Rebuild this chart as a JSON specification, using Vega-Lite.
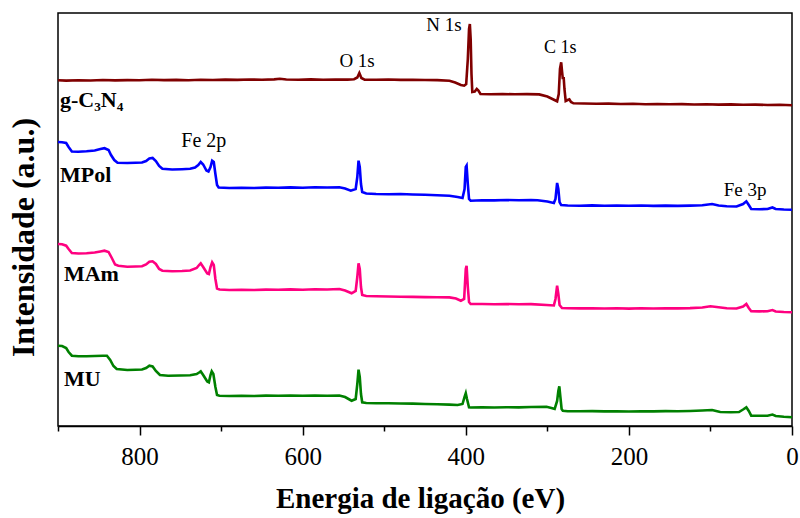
{
"$schema": "https://vega.github.io/schema/vega-lite/v6.json",
"autosize": "none",
"width": 734,
"height": 413,
"padding": {"left": 58, "top": 13, "right": 8, "bottom": 92},
"background": "white",
"config": {
  "view": {"stroke": "black", "strokeWidth": 1.5},
  "axis": {"grid": false, "domainColor": "black", "tickColor": "black", "domainWidth": 1.5, "tickWidth": 1.5, "labelColor": "black", "titleColor": "black"}
},
"datasets": {
  "spectra": [
{"s":"g-C3N4","E":900,"I":345.7},{"s":"g-C3N4","E":890,"I":345.4},{"s":"g-C3N4","E":875,"I":345.8},{"s":"g-C3N4","E":860,"I":345.5},{"s":"g-C3N4","E":845,"I":346.0},{"s":"g-C3N4","E":830,"I":345.6},{"s":"g-C3N4","E":815,"I":345.9},{"s":"g-C3N4","E":800,"I":345.7},{"s":"g-C3N4","E":785,"I":346.2},{"s":"g-C3N4","E":770,"I":345.9},{"s":"g-C3N4","E":755,"I":346.1},{"s":"g-C3N4","E":740,"I":345.8},{"s":"g-C3N4","E":725,"I":346.3},{"s":"g-C3N4","E":710,"I":346.0},{"s":"g-C3N4","E":695,"I":346.4},{"s":"g-C3N4","E":680,"I":346.1},{"s":"g-C3N4","E":665,"I":346.5},{"s":"g-C3N4","E":650,"I":346.2},{"s":"g-C3N4","E":635,"I":346.6},{"s":"g-C3N4","E":628,"I":347.2},{"s":"g-C3N4","E":620,"I":346.5},{"s":"g-C3N4","E":605,"I":346.3},{"s":"g-C3N4","E":590,"I":346.6},{"s":"g-C3N4","E":575,"I":346.2},{"s":"g-C3N4","E":560,"I":346.5},{"s":"g-C3N4","E":545,"I":346.4},{"s":"g-C3N4","E":537,"I":346.8},{"s":"g-C3N4","E":533,"I":348.5},{"s":"g-C3N4","E":530.5,"I":353},{"s":"g-C3N4","E":528,"I":348},{"s":"g-C3N4","E":524,"I":346.4},{"s":"g-C3N4","E":510,"I":346.2},{"s":"g-C3N4","E":495,"I":346.5},{"s":"g-C3N4","E":480,"I":346.1},{"s":"g-C3N4","E":465,"I":346.3},{"s":"g-C3N4","E":450,"I":346.0},{"s":"g-C3N4","E":435,"I":345.9},{"s":"g-C3N4","E":420,"I":345.3},{"s":"g-C3N4","E":413,"I":343.5},{"s":"g-C3N4","E":406,"I":341},{"s":"g-C3N4","E":402,"I":340.3},{"s":"g-C3N4","E":399.5,"I":342},{"s":"g-C3N4","E":397.5,"I":367},{"s":"g-C3N4","E":396,"I":397},{"s":"g-C3N4","E":395,"I":402},{"s":"g-C3N4","E":394,"I":387},{"s":"g-C3N4","E":393,"I":352},{"s":"g-C3N4","E":392,"I":334},{"s":"g-C3N4","E":389,"I":334.5},{"s":"g-C3N4","E":386.5,"I":337},{"s":"g-C3N4","E":384.5,"I":335.5},{"s":"g-C3N4","E":382,"I":332},{"s":"g-C3N4","E":370,"I":331.8},{"s":"g-C3N4","E":355,"I":332},{"s":"g-C3N4","E":340,"I":331.7},{"s":"g-C3N4","E":325,"I":331.9},{"s":"g-C3N4","E":310,"I":331.6},{"s":"g-C3N4","E":300,"I":329.5},{"s":"g-C3N4","E":290,"I":325.5},{"s":"g-C3N4","E":288,"I":324.7},{"s":"g-C3N4","E":286,"I":332},{"s":"g-C3N4","E":284.5,"I":357},{"s":"g-C3N4","E":283,"I":363.7},{"s":"g-C3N4","E":282,"I":355},{"s":"g-C3N4","E":281,"I":347},{"s":"g-C3N4","E":280,"I":349},{"s":"g-C3N4","E":279,"I":337},{"s":"g-C3N4","E":277.5,"I":325},{"s":"g-C3N4","E":275,"I":326},{"s":"g-C3N4","E":273,"I":326.7},{"s":"g-C3N4","E":271,"I":324},{"s":"g-C3N4","E":268,"I":322.7},{"s":"g-C3N4","E":255,"I":322.5},{"s":"g-C3N4","E":240,"I":322.2},{"s":"g-C3N4","E":225,"I":322.4},{"s":"g-C3N4","E":210,"I":322},{"s":"g-C3N4","E":195,"I":322.2},{"s":"g-C3N4","E":180,"I":321.8},{"s":"g-C3N4","E":165,"I":322},{"s":"g-C3N4","E":150,"I":321.7},{"s":"g-C3N4","E":135,"I":321.9},{"s":"g-C3N4","E":120,"I":321.5},{"s":"g-C3N4","E":105,"I":321.7},{"s":"g-C3N4","E":90,"I":321.4},{"s":"g-C3N4","E":75,"I":321.6},{"s":"g-C3N4","E":60,"I":321.2},{"s":"g-C3N4","E":45,"I":321.4},{"s":"g-C3N4","E":30,"I":321},{"s":"g-C3N4","E":15,"I":321.2},{"s":"g-C3N4","E":0,"I":320.7},

{"s":"MPol","E":900,"I":284},{"s":"MPol","E":895,"I":283.7},{"s":"MPol","E":890,"I":283},{"s":"MPol","E":887,"I":279},{"s":"MPol","E":883,"I":274.5},{"s":"MPol","E":875,"I":274.2},{"s":"MPol","E":865,"I":274.7},{"s":"MPol","E":855,"I":275.5},{"s":"MPol","E":848,"I":277},{"s":"MPol","E":843,"I":277.8},{"s":"MPol","E":838,"I":276},{"s":"MPol","E":835,"I":271},{"s":"MPol","E":831,"I":266},{"s":"MPol","E":827,"I":263.3},{"s":"MPol","E":815,"I":263},{"s":"MPol","E":805,"I":263.2},{"s":"MPol","E":797,"I":263.5},{"s":"MPol","E":792,"I":265},{"s":"MPol","E":788,"I":267.5},{"s":"MPol","E":784,"I":268},{"s":"MPol","E":780,"I":265},{"s":"MPol","E":776,"I":260},{"s":"MPol","E":772,"I":257.2},{"s":"MPol","E":760,"I":256.5},{"s":"MPol","E":748,"I":256.8},{"s":"MPol","E":738,"I":257.2},{"s":"MPol","E":732,"I":258.5},{"s":"MPol","E":728,"I":261},{"s":"MPol","E":725,"I":264},{"s":"MPol","E":722,"I":261.5},{"s":"MPol","E":718,"I":255.5},{"s":"MPol","E":715.5,"I":254.5},{"s":"MPol","E":713,"I":259},{"s":"MPol","E":711,"I":265.3},{"s":"MPol","E":709,"I":264},{"s":"MPol","E":707,"I":252},{"s":"MPol","E":705,"I":241},{"s":"MPol","E":703,"I":238.5},{"s":"MPol","E":690,"I":238},{"s":"MPol","E":675,"I":238.3},{"s":"MPol","E":660,"I":238},{"s":"MPol","E":645,"I":238.4},{"s":"MPol","E":630,"I":238.2},{"s":"MPol","E":615,"I":238.6},{"s":"MPol","E":600,"I":238.3},{"s":"MPol","E":585,"I":238.7},{"s":"MPol","E":570,"I":238.5},{"s":"MPol","E":555,"I":238.7},{"s":"MPol","E":548,"I":237.5},{"s":"MPol","E":541,"I":235.3},{"s":"MPol","E":535,"I":237},{"s":"MPol","E":533,"I":249},{"s":"MPol","E":531.5,"I":265.3},{"s":"MPol","E":530,"I":259},{"s":"MPol","E":528.5,"I":242},{"s":"MPol","E":527,"I":234},{"s":"MPol","E":522,"I":232.5},{"s":"MPol","E":510,"I":232},{"s":"MPol","E":495,"I":231.8},{"s":"MPol","E":480,"I":232},{"s":"MPol","E":465,"I":231.5},{"s":"MPol","E":450,"I":231.2},{"s":"MPol","E":435,"I":230.8},{"s":"MPol","E":420,"I":230.3},{"s":"MPol","E":410,"I":229},{"s":"MPol","E":404,"I":228},{"s":"MPol","E":401.5,"I":237},{"s":"MPol","E":400,"I":259},{"s":"MPol","E":399,"I":260.3},{"s":"MPol","E":397.5,"I":242},{"s":"MPol","E":396,"I":227},{"s":"MPol","E":394,"I":225.3},{"s":"MPol","E":380,"I":225.8},{"s":"MPol","E":365,"I":225.6},{"s":"MPol","E":350,"I":226},{"s":"MPol","E":335,"I":225.7},{"s":"MPol","E":320,"I":226},{"s":"MPol","E":312,"I":225.8},{"s":"MPol","E":300,"I":224.5},{"s":"MPol","E":292,"I":223},{"s":"MPol","E":290,"I":227},{"s":"MPol","E":288,"I":243},{"s":"MPol","E":286.5,"I":237},{"s":"MPol","E":285,"I":224},{"s":"MPol","E":283,"I":221},{"s":"MPol","E":275,"I":220.5},{"s":"MPol","E":260,"I":220.3},{"s":"MPol","E":245,"I":220.6},{"s":"MPol","E":230,"I":220.2},{"s":"MPol","E":215,"I":220.5},{"s":"MPol","E":200,"I":220.2},{"s":"MPol","E":185,"I":220.5},{"s":"MPol","E":170,"I":220.1},{"s":"MPol","E":155,"I":220.4},{"s":"MPol","E":140,"I":220.1},{"s":"MPol","E":125,"I":220.4},{"s":"MPol","E":110,"I":220.8},{"s":"MPol","E":98,"I":222},{"s":"MPol","E":90,"I":220.5},{"s":"MPol","E":80,"I":219.7},{"s":"MPol","E":68,"I":219.5},{"s":"MPol","E":60,"I":222},{"s":"MPol","E":56,"I":224.7},{"s":"MPol","E":53,"I":221},{"s":"MPol","E":50,"I":217},{"s":"MPol","E":40,"I":216.8},{"s":"MPol","E":30,"I":217},{"s":"MPol","E":24,"I":218.5},{"s":"MPol","E":20,"I":217},{"s":"MPol","E":10,"I":216.5},{"s":"MPol","E":0,"I":216.3},

{"s":"MAm","E":900,"I":182},{"s":"MAm","E":895,"I":181.7},{"s":"MAm","E":890,"I":180.3},{"s":"MAm","E":887,"I":177},{"s":"MAm","E":883,"I":173},{"s":"MAm","E":875,"I":172.5},{"s":"MAm","E":865,"I":172.8},{"s":"MAm","E":855,"I":173.5},{"s":"MAm","E":848,"I":174.5},{"s":"MAm","E":843,"I":175.3},{"s":"MAm","E":838,"I":174},{"s":"MAm","E":834,"I":168},{"s":"MAm","E":830,"I":161.5},{"s":"MAm","E":826,"I":160.3},{"s":"MAm","E":815,"I":159.3},{"s":"MAm","E":805,"I":159.5},{"s":"MAm","E":797,"I":159.7},{"s":"MAm","E":792,"I":161.5},{"s":"MAm","E":788,"I":164.2},{"s":"MAm","E":784,"I":164.7},{"s":"MAm","E":780,"I":162},{"s":"MAm","E":776,"I":157},{"s":"MAm","E":772,"I":155.3},{"s":"MAm","E":760,"I":154.7},{"s":"MAm","E":748,"I":155},{"s":"MAm","E":738,"I":155.5},{"s":"MAm","E":730,"I":158},{"s":"MAm","E":727,"I":161},{"s":"MAm","E":725,"I":162.7},{"s":"MAm","E":722,"I":159},{"s":"MAm","E":717,"I":152.5},{"s":"MAm","E":715,"I":152},{"s":"MAm","E":713,"I":159},{"s":"MAm","E":711,"I":163.7},{"s":"MAm","E":709,"I":161},{"s":"MAm","E":707,"I":147},{"s":"MAm","E":705,"I":137.5},{"s":"MAm","E":702,"I":136.5},{"s":"MAm","E":690,"I":136},{"s":"MAm","E":675,"I":136.3},{"s":"MAm","E":660,"I":136},{"s":"MAm","E":645,"I":136.4},{"s":"MAm","E":630,"I":136.2},{"s":"MAm","E":615,"I":136.6},{"s":"MAm","E":600,"I":136.3},{"s":"MAm","E":585,"I":136.7},{"s":"MAm","E":570,"I":136.5},{"s":"MAm","E":555,"I":137},{"s":"MAm","E":548,"I":135.5},{"s":"MAm","E":540,"I":132.7},{"s":"MAm","E":535,"I":135},{"s":"MAm","E":533,"I":149},{"s":"MAm","E":531.5,"I":162.7},{"s":"MAm","E":530,"I":157},{"s":"MAm","E":528.5,"I":139},{"s":"MAm","E":527,"I":131},{"s":"MAm","E":522,"I":130},{"s":"MAm","E":510,"I":129.7},{"s":"MAm","E":495,"I":129.5},{"s":"MAm","E":480,"I":129.3},{"s":"MAm","E":465,"I":129.1},{"s":"MAm","E":450,"I":128.9},{"s":"MAm","E":435,"I":128.7},{"s":"MAm","E":420,"I":128.6},{"s":"MAm","E":412,"I":127.5},{"s":"MAm","E":406,"I":125.3},{"s":"MAm","E":402,"I":127},{"s":"MAm","E":400,"I":157},{"s":"MAm","E":399,"I":160.3},{"s":"MAm","E":397.5,"I":139},{"s":"MAm","E":396,"I":124},{"s":"MAm","E":394,"I":122},{"s":"MAm","E":380,"I":122},{"s":"MAm","E":365,"I":121.8},{"s":"MAm","E":350,"I":122},{"s":"MAm","E":335,"I":121.7},{"s":"MAm","E":320,"I":121.9},{"s":"MAm","E":301,"I":121},{"s":"MAm","E":292,"I":120.5},{"s":"MAm","E":290,"I":127},{"s":"MAm","E":288,"I":140.3},{"s":"MAm","E":286.5,"I":132},{"s":"MAm","E":285,"I":121},{"s":"MAm","E":282,"I":118},{"s":"MAm","E":275,"I":117.7},{"s":"MAm","E":260,"I":117.6},{"s":"MAm","E":245,"I":117.8},{"s":"MAm","E":230,"I":117.5},{"s":"MAm","E":215,"I":117.7},{"s":"MAm","E":200,"I":117.4},{"s":"MAm","E":185,"I":117.7},{"s":"MAm","E":170,"I":117.5},{"s":"MAm","E":155,"I":117.8},{"s":"MAm","E":140,"I":117.6},{"s":"MAm","E":125,"I":117.9},{"s":"MAm","E":110,"I":118.5},{"s":"MAm","E":100,"I":119.7},{"s":"MAm","E":90,"I":118.7},{"s":"MAm","E":80,"I":117.7},{"s":"MAm","E":68,"I":117.5},{"s":"MAm","E":60,"I":119.5},{"s":"MAm","E":56,"I":122},{"s":"MAm","E":53,"I":118},{"s":"MAm","E":50,"I":114.7},{"s":"MAm","E":40,"I":114.6},{"s":"MAm","E":30,"I":114.8},{"s":"MAm","E":24,"I":116},{"s":"MAm","E":20,"I":114.5},{"s":"MAm","E":10,"I":114},{"s":"MAm","E":0,"I":113.7},

{"s":"MU","E":900,"I":80.3},{"s":"MU","E":895,"I":80},{"s":"MU","E":890,"I":78},{"s":"MU","E":887,"I":74},{"s":"MU","E":883,"I":70.3},{"s":"MU","E":875,"I":69.7},{"s":"MU","E":865,"I":69.8},{"s":"MU","E":855,"I":70},{"s":"MU","E":845,"I":70.2},{"s":"MU","E":840,"I":70.3},{"s":"MU","E":836,"I":66},{"s":"MU","E":832,"I":60},{"s":"MU","E":828,"I":57},{"s":"MU","E":815,"I":56},{"s":"MU","E":805,"I":56.2},{"s":"MU","E":797,"I":56.5},{"s":"MU","E":792,"I":58},{"s":"MU","E":788,"I":60.3},{"s":"MU","E":784,"I":59.5},{"s":"MU","E":780,"I":55},{"s":"MU","E":775,"I":51},{"s":"MU","E":765,"I":50.3},{"s":"MU","E":750,"I":50.5},{"s":"MU","E":738,"I":50.7},{"s":"MU","E":730,"I":52},{"s":"MU","E":727,"I":53.5},{"s":"MU","E":725,"I":54.7},{"s":"MU","E":722,"I":51},{"s":"MU","E":717,"I":44.5},{"s":"MU","E":715,"I":43.7},{"s":"MU","E":713,"I":51},{"s":"MU","E":711.5,"I":54.7},{"s":"MU","E":709.5,"I":52},{"s":"MU","E":707,"I":39},{"s":"MU","E":705,"I":31},{"s":"MU","E":702,"I":30.3},{"s":"MU","E":690,"I":30},{"s":"MU","E":675,"I":30.3},{"s":"MU","E":660,"I":30},{"s":"MU","E":645,"I":30.4},{"s":"MU","E":630,"I":30.2},{"s":"MU","E":615,"I":30.5},{"s":"MU","E":600,"I":30.2},{"s":"MU","E":585,"I":30.5},{"s":"MU","E":570,"I":30.3},{"s":"MU","E":555,"I":30.5},{"s":"MU","E":548,"I":29},{"s":"MU","E":540,"I":25.3},{"s":"MU","E":535,"I":27},{"s":"MU","E":533,"I":42},{"s":"MU","E":531.5,"I":56.3},{"s":"MU","E":530,"I":49},{"s":"MU","E":528.5,"I":32},{"s":"MU","E":527,"I":23.7},{"s":"MU","E":522,"I":23},{"s":"MU","E":510,"I":22.7},{"s":"MU","E":495,"I":22.7},{"s":"MU","E":480,"I":22.5},{"s":"MU","E":465,"I":22.4},{"s":"MU","E":450,"I":22},{"s":"MU","E":435,"I":21.7},{"s":"MU","E":420,"I":21.4},{"s":"MU","E":410,"I":21},{"s":"MU","E":404,"I":22},{"s":"MU","E":401.5,"I":29},{"s":"MU","E":400,"I":32.7},{"s":"MU","E":398.5,"I":27},{"s":"MU","E":396,"I":18.7},{"s":"MU","E":394,"I":18.5},{"s":"MU","E":380,"I":18.7},{"s":"MU","E":365,"I":18.5},{"s":"MU","E":350,"I":18.8},{"s":"MU","E":335,"I":18.6},{"s":"MU","E":320,"I":19},{"s":"MU","E":301,"I":19.3},{"s":"MU","E":295,"I":18},{"s":"MU","E":291,"I":17},{"s":"MU","E":288,"I":25},{"s":"MU","E":286.5,"I":35},{"s":"MU","E":285.3,"I":39.7},{"s":"MU","E":284,"I":29},{"s":"MU","E":282.5,"I":17},{"s":"MU","E":281,"I":15.3},{"s":"MU","E":275,"I":14.8},{"s":"MU","E":260,"I":14.7},{"s":"MU","E":245,"I":14.9},{"s":"MU","E":230,"I":14.6},{"s":"MU","E":215,"I":14.8},{"s":"MU","E":200,"I":14.5},{"s":"MU","E":185,"I":14.8},{"s":"MU","E":170,"I":14.6},{"s":"MU","E":155,"I":14.9},{"s":"MU","E":140,"I":14.7},{"s":"MU","E":125,"I":15},{"s":"MU","E":110,"I":15.5},{"s":"MU","E":98,"I":16},{"s":"MU","E":88,"I":14},{"s":"MU","E":75,"I":13.7},{"s":"MU","E":65,"I":14},{"s":"MU","E":60,"I":16.5},{"s":"MU","E":56,"I":18.7},{"s":"MU","E":53,"I":15},{"s":"MU","E":50,"I":10.3},{"s":"MU","E":40,"I":10.2},{"s":"MU","E":30,"I":10.3},{"s":"MU","E":24,"I":11.5},{"s":"MU","E":20,"I":10},{"s":"MU","E":10,"I":9.2},{"s":"MU","E":0,"I":8.7}
  ],
  "peaks": [
    {"E": 533.3, "I": 359, "t": "O 1s", "fs": 19},
    {"E": 426.7, "I": 395, "t": "N 1s", "fs": 19},
    {"E": 284.1, "I": 373, "t": "C 1s", "fs": 18},
    {"E": 721.2, "I": 279, "t": "Fe 2p", "fs": 20},
    {"E": 57.6, "I": 230, "t": "Fe 3p", "fs": 19}
  ],
  "samples": [
    {"E": 897.6, "I": 319, "t": "g-C₃N₄"},
    {"E": 897.6, "I": 243.7, "t": "MPol"},
    {"E": 892.7, "I": 145.3, "t": "MAm"},
    {"E": 892.7, "I": 40.3, "t": "MU"}
  ]
},
"resolve": {"axis": {"x": "independent"}},
"layer": [
  {
    "data": {"name": "spectra"},
    "mark": {"type": "line", "strokeWidth": 2.6, "interpolate": "linear"},
    "encoding": {
      "x": {"field": "E", "type": "quantitative",
        "scale": {"domain": [0, 900], "reverse": true, "nice": false, "zero": false},
        "axis": {"orient": "bottom", "values": [800, 600, 400, 200, 0], "tickSize": 9, "labelFontSize": 25, "labelFont": "Liberation Serif", "labelBaseline": "alphabetic", "labelPadding": 29, "labelFlush": false,
          "title": "Energia de ligação (eV)", "titleFont": "Liberation Serif", "titleFontSize": 29, "titleFontWeight": "bold", "titleBaseline": "alphabetic", "titleX": 362, "titleY": 81, "titleAlign": "center"}},
      "y": {"field": "I", "type": "quantitative",
        "scale": {"domain": [0, 413], "nice": false, "zero": false},
        "axis": {"labels": false, "ticks": false, "domain": false, "grid": false,
          "title": "Intensidade (a.u.)", "titleFont": "Liberation Serif", "titleFontSize": 32, "titleFontWeight": "bold", "titleAngle": -90, "titleBaseline": "alphabetic", "titleX": -25, "titleY": 224, "titleAlign": "center"}},
      "color": {"field": "s", "type": "nominal", "legend": null,
        "scale": {"domain": ["g-C3N4", "MPol", "MAm", "MU"], "range": ["#800000", "#0000FF", "#FF0080", "#008000"]}},
      "detail": {"field": "s"}
    }
  },
  {
    "data": {"name": "peaks"},
    "mark": {"type": "text", "font": "Liberation Serif", "align": "center", "baseline": "alphabetic", "color": "black"},
    "encoding": {
      "x": {"field": "E", "type": "quantitative",
        "axis": {"orient": "bottom", "values": [900, 700, 500, 300, 100], "tickSize": 5, "labels": false, "domain": false, "title": null}},
      "y": {"field": "I", "type": "quantitative"},
      "text": {"field": "t"},
      "size": {"field": "fs", "type": "quantitative", "scale": null}
    }
  },
  {
    "data": {"name": "samples"},
    "mark": {"type": "text", "font": "Liberation Serif", "fontWeight": "bold", "fontSize": 22, "align": "left", "baseline": "alphabetic", "color": "black"},
    "encoding": {
      "x": {"field": "E", "type": "quantitative", "axis": null},
      "y": {"field": "I", "type": "quantitative"},
      "text": {"field": "t"}
    }
  }
]
}
